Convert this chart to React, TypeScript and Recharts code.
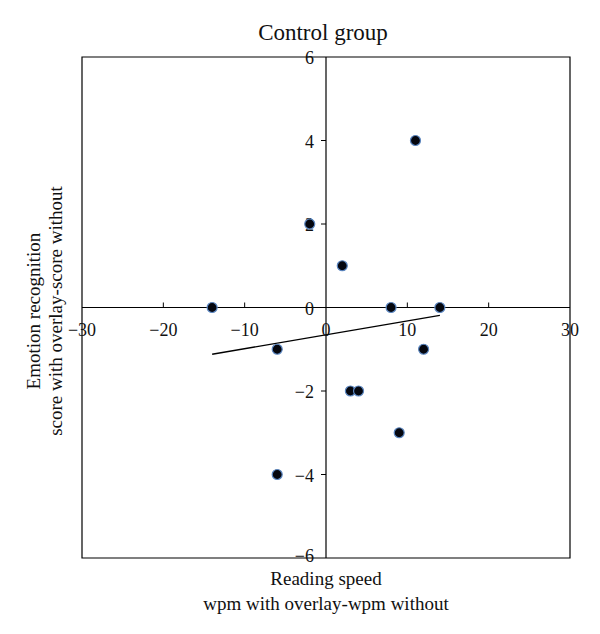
import React from 'react';
import { ScatterChart, Scatter, XAxis, YAxis, ReferenceLine, ReferenceArea, ReferenceDot } from 'recharts';

const xValues = [-14, -6, -6, -2, 2, 3, 4, 8, 9, 11, 12, 14];
const yValues = [0, -1, -4, 2, 1, -2, -2, 0, -3, 4, -1, 0];
const xTicks = [-30, -20, -10, 0, 10, 20, 30];
const yTicks = [-6, -4, -2, 0, 2, 4, 6];
const fitX = [-14, 14];
const fitY = [-1.12, -0.19];

const points = xValues.map((x, i) => ({ x, y: yValues[i] }));

const W = 600;
const H = 634;
const margin = { top: 57, right: 30, bottom: 76, left: 82 };
const plotW = W - margin.left - margin.right;
const font = '"Liberation Serif", "DejaVu Serif", serif';
const fmt = (v: number) => (v < 0 ? `\u2212${Math.abs(v)}` : `${v}`);

const xTickShape = (v: number) => (props: any) => {
  const { cx, cy } = props;
  return (
    <g>
      {v !== 0 && Math.abs(v) !== 30 && (
        <line x1={cx} x2={cx} y1={cy} y2={cy - 5} stroke="#000" strokeWidth={1} />
      )}
      <text x={cx} y={cy + 28} textAnchor="middle" fontSize={18} fontFamily={font} fill="#111">
        {fmt(v)}
      </text>
    </g>
  );
};

const yTickShape = (v: number) => (props: any) => {
  const { cx, cy } = props;
  return (
    <g>
      {v !== 0 && Math.abs(v) !== 6 && (
        <line x1={cx} x2={cx - 5} y1={cy} y2={cy} stroke="#000" strokeWidth={1} />
      )}
      <text x={cx - 12} y={cy + (v === -6 ? 4 : 7)} textAnchor="end" fontSize={18} fontFamily={font} fill="#111">
        {fmt(v)}
      </text>
    </g>
  );
};

const Dot = (props: any) => {
  const { cx, cy } = props;
  return <circle cx={cx} cy={cy} r={5} fill="#05070f" stroke="#5b86c0" strokeWidth={1.2} />;
};

export default function App() {
  return (
    <div style={{ position: 'absolute', left: 0, top: 0, width: W, height: H, background: '#fff', fontFamily: font, color: '#111' }}>
      <ScatterChart width={W} height={H} margin={margin}>
        <XAxis type="number" dataKey="x" domain={[-30, 30]} ticks={xTicks} hide />
        <YAxis type="number" dataKey="y" domain={[-6, 6]} ticks={yTicks} hide />
        <ReferenceArea x1={-30} x2={30} y1={-6} y2={6} fill="none" stroke="#000" strokeWidth={1.2} fillOpacity={0} />
        <ReferenceLine x={0} stroke="#000" strokeWidth={1.2} />
        <ReferenceLine y={0} stroke="#000" strokeWidth={1.2} />
        {xTicks.map((v) => (
          <ReferenceDot key={`x${v}`} x={v} y={0} r={0} shape={xTickShape(v)} ifOverflow="visible" />
        ))}
        {yTicks.map((v) => (
          <ReferenceDot key={`y${v}`} x={0} y={v} r={0} shape={yTickShape(v)} ifOverflow="visible" />
        ))}
        <ReferenceLine
          segment={[{ x: fitX[0], y: fitY[0] }, { x: fitX[1], y: fitY[1] }]}
          stroke="#000"
          strokeWidth={1.3}
        />
        <Scatter data={points} shape={<Dot />} isAnimationActive={false} />
      </ScatterChart>
      <div style={{ position: 'absolute', left: 0, width: 646, top: 20, textAlign: 'center', fontSize: 23 }}>
        Control group
      </div>
      <div style={{ position: 'absolute', left: margin.left, width: plotW, top: 572, textAlign: 'center', fontSize: 19, lineHeight: '14px' }}>
        Reading speed
      </div>
      <div style={{ position: 'absolute', left: margin.left, width: plotW, top: 597, textAlign: 'center', fontSize: 19, lineHeight: '14px' }}>
        wpm with overlay-wpm without
      </div>
      <div
        style={{
          position: 'absolute',
          left: 45 - 150,
          top: 311 - 22,
          width: 300,
          height: 44,
          transform: 'rotate(-90deg)',
          textAlign: 'center',
          fontSize: 19,
          lineHeight: '22px',
        }}
      >
        Emotion recognition
        <br />
        score with overlay-score without
      </div>
    </div>
  );
}
